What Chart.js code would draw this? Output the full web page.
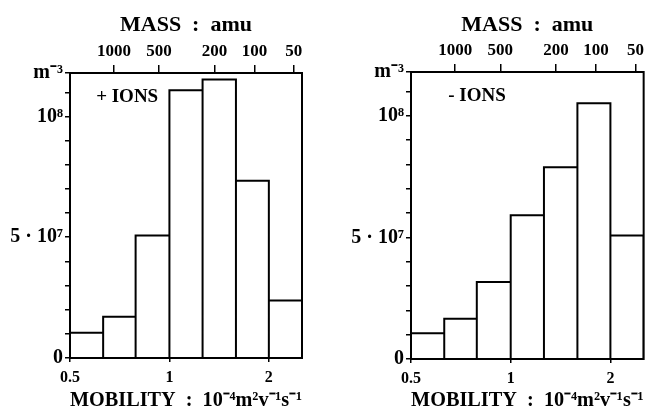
<!DOCTYPE html>
<html>
<head>
<meta charset="utf-8">
<script src="https://cdn.jsdelivr.net/npm/chart.js@4.4.1/dist/chart.umd.min.js"></script>
<style>
  body { margin: 0; background: #fff; }
  .panel { position: absolute; top: 0; height: 413px; }
  #leftPanel { left: 0; width: 323px; }
  #rightPanel { left: 323px; width: 324px; }
</style>
</head>
<body>
<div class="panel" id="leftPanel"><canvas id="posChart"></canvas></div>
<div class="panel" id="rightPanel"><canvas id="negChart"></canvas></div>
<script>
// histogram bins on mobility (1e-4 m2/V/s), 1/3 octave wide
const binEdges = [0.5, 0.63, 0.79, 1.0, 1.26, 1.59, 2.0, 2.52];
const posIons = [1.05e7, 1.71e7, 5.07e7, 1.109e8, 1.153e8, 7.34e7, 2.38e7];
const negIons = [1.06e7, 1.65e7, 3.17e7, 5.91e7, 7.88e7, 1.052e8, 5.08e7];

// axis ticks
const mobilityTicks = [0.5, 1, 2];
const massLabels = ['1000', '500', '200', '100', '50'];
const massAtMobility = [0.68, 0.93, 1.37, 1.81, 2.38];
const yTicks = [0, 1e7, 2e7, 3e7, 4e7, 5e7, 6e7, 7e7, 8e7, 9e7, 1e8, 1.1e8, 1.18e8];
const yTickLabels = { 0: '0', 50000000: '5 · 10⁷', 100000000: '10⁸', 118000000: 'm⁻³' };

const serif = '"Liberation Serif", "Times New Roman", serif';

// step outline: each bin is its own box
function outline(values) {
  const pts = [{ x: binEdges[0], y: 0 }];
  values.forEach((v, i) => {
    pts.push({ x: binEdges[i], y: v }, { x: binEdges[i + 1], y: v }, { x: binEdges[i + 1], y: 0 });
  });
  return pts;
}

const framePlugin = {
  id: 'frame',
  afterDatasetsDraw(chart, args, opts) {
    const { ctx, chartArea: a } = chart;
    ctx.save();
    ctx.strokeStyle = '#000';
    ctx.lineWidth = 2;
    ctx.strokeRect(a.left, a.top, a.width, a.height);
    ctx.fillStyle = '#000';
    ctx.font = 'bold 19px ' + serif;
    ctx.textBaseline = 'middle';
    ctx.fillText(opts.text, chart.scales.x.getPixelForValue(opts.x), chart.scales.y.getPixelForValue(opts.y));
    ctx.restore();
  }
};

function makeChart(id, values, label, yWidth, padRight, topH, bottomH) {
  const tickGrid = (len) => ({ display: true, drawOnChartArea: false, drawTicks: true, tickLength: len, color: '#000', lineWidth: 1.5 });
  return new Chart(document.getElementById(id), {
    type: 'scatter',
    data: {
      datasets: [{
        data: outline(values),
        showLine: true,
        pointRadius: 0,
        borderColor: '#000',
        borderWidth: 2,
        fill: false,
        tension: 0
      }]
    },
    options: {
      responsive: true,
      maintainAspectRatio: false,
      animation: false,
      layout: { padding: { left: 0, right: padRight, top: 0, bottom: 0 } },
      plugins: {
        legend: { display: false },
        tooltip: { enabled: false },
        frame: label
      },
      scales: {
        x: {
          type: 'logarithmic',
          position: 'bottom',
          min: binEdges[0],
          max: binEdges[binEdges.length - 1],
          afterBuildTicks: s => { s.ticks = mobilityTicks.map(v => ({ value: v })); },
          afterFit: s => { s.height = bottomH; },
          grid: tickGrid(4),
          border: { display: false },
          ticks: {
            autoSkip: false, maxRotation: 0, padding: 6,
            color: '#000', font: { family: serif, size: 16, weight: 'bold' },
            callback: v => String(v)
          },
          title: {
            display: true,
            text: 'MOBILITY  :  10⁻⁴m²v⁻¹s⁻¹',
            color: '#000',
            font: { family: serif, size: 21, weight: 'bold', lineHeight: 1.2 },
            padding: { top: 0, bottom: 0 }
          }
        },
        xMass: {
          type: 'logarithmic',
          position: 'top',
          min: binEdges[0],
          max: binEdges[binEdges.length - 1],
          afterBuildTicks: s => { s.ticks = massAtMobility.map(v => ({ value: v })); },
          afterFit: s => { s.height = topH; },
          grid: tickGrid(8),
          border: { display: false },
          ticks: {
            autoSkip: false, maxRotation: 0, padding: 3,
            color: '#000', font: { family: serif, size: 17, weight: 'bold' },
            callback: (v, i) => massLabels[i]
          },
          title: {
            display: true,
            text: 'MASS  :  amu',
            color: '#000',
            font: { family: serif, size: 22, weight: 'bold', lineHeight: 1.2 },
            padding: { top: 12, bottom: 0 }
          }
        },
        y: {
          type: 'linear',
          min: 0,
          max: 1.18e8,
          afterBuildTicks: s => { s.ticks = yTicks.map(v => ({ value: v })); },
          afterFit: s => { s.width = yWidth; },
          grid: tickGrid(5),
          border: { display: false },
          ticks: {
            autoSkip: false, padding: 2,
            color: '#000', font: { family: serif, size: 20, weight: 'bold' },
            callback: v => yTickLabels[Math.round(v)] || ''
          }
        }
      }
    },
    plugins: [framePlugin]
  });
}

makeChart('posChart', posIons, { text: '+ IONS', x: 0.6, y: 1.08e8 }, 70, 21, 73, 55);
makeChart('negChart', negIons, { text: '- IONS', x: 0.648, y: 1.08e8 }, 88, 2, 72, 54);
</script>
</body>
</html>
